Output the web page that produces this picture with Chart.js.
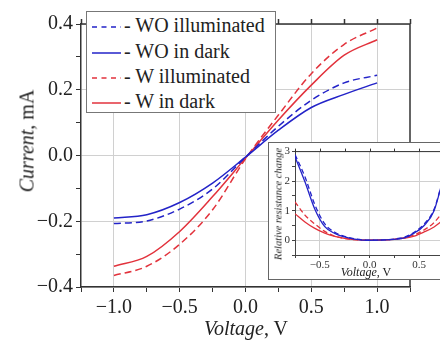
<!DOCTYPE html>
<html>
<head>
<meta charset="utf-8">
<script src="https://cdn.jsdelivr.net/npm/chart.js@4.4.1/dist/chart.umd.min.js"></script>
<style>
  html, body { margin: 0; padding: 0; background: #fff; }
  body { width: 440px; height: 340px; overflow: hidden; position: relative; font-family: "Liberation Serif", "Times New Roman", "DejaVu Serif", serif; color: #222; }
  #main { position: absolute; left: 0; top: 0; }
  #legend { position: absolute; left: 86px; top: 11px; width: 188px; height: 100px; border: 1px solid #777; background: #fff; }
  .row { position: absolute; left: 5px; height: 22px; line-height: 22px; font-size: 20px; white-space: nowrap; }
  .row svg { vertical-align: middle; margin-right: 3px; }
  .ytitle { position: absolute; transform: translate(-50%, -50%) rotate(-90deg); white-space: nowrap; }
  .xtitle { position: absolute; transform: translate(-50%, -50%); white-space: nowrap; }
  #inset { position: absolute; left: 268px; top: 142px; width: 200px; height: 136px; border: 1.5px solid #666; background: #fff; }
  #insetCanvas { position: absolute; left: 0; top: 0; }
</style>
</head>
<body>
<canvas id="main" width="440" height="340"></canvas>
<div id="legend"></div>
<div class="ytitle" style="left:27px; top:141px; font-size:20px;"><i>Current</i>, mA</div>
<div class="xtitle" style="left:246px; top:328px; font-size:20px;"><i>Voltage</i>, V</div>
<div id="inset">
  <canvas id="insetCanvas" width="190" height="136"></canvas>
  <div class="ytitle" style="left:9px; top:61px; font-size:10.5px;"><i>Relative resistance change</i></div>
  <div class="xtitle" style="left:97px; top:129px; font-size:12px;"><i>Voltage</i>, V</div>
</div>
<script>
// main I-V curves
const voltage = [-1, -0.75, -0.5, -0.25, 0, 0.25, 0.5, 0.75, 1];
const woIlluminated = [-0.207, -0.199, -0.163, -0.102, -0.005, 0.089, 0.168, 0.221, 0.244];
const woDark = [-0.19, -0.18, -0.143, -0.084, -0.005, 0.077, 0.146, 0.186, 0.221];
const wIlluminated = [-0.365, -0.337, -0.27, -0.165, -0.01, 0.123, 0.249, 0.338, 0.388];
const wDark = [-0.337, -0.307, -0.231, -0.125, -0.008, 0.108, 0.214, 0.305, 0.352];

// inset: relative resistance change
const insetVoltage = [-0.75, -0.65, -0.55, -0.45, -0.35, -0.25, -0.15, 0, 0.15, 0.25, 0.35, 0.45, 0.55, 0.65, 0.75];
const insetWoIlluminated = [2.9, 2.15, 1.2, 0.55, 0.27, 0.13, 0.05, 0, 0.01, 0.04, 0.1, 0.27, 0.55, 1.05, 2.2];
const insetWoDark = [2.83, 1.98, 1.05, 0.46, 0.23, 0.11, 0.04, 0, 0.01, 0.03, 0.08, 0.24, 0.5, 1.0, 2.2];
const insetWIlluminated = [1.3, 0.85, 0.55, 0.3, 0.14, 0.06, 0.02, 0, 0.01, 0.03, 0.08, 0.18, 0.35, 0.6, 1.0];
const insetWDark = [0.9, 0.62, 0.4, 0.24, 0.13, 0.06, 0.02, 0, 0.01, 0.03, 0.07, 0.14, 0.28, 0.45, 0.7];

const seriesNames = ['WO illuminated', 'WO in dark', 'W illuminated', 'W in dark'];
const mainXLabels = [-1, -0.5, 0, 0.5, 1];
const mainYLabels = [-0.4, -0.2, 0, 0.2, 0.4];
const insetXLabels = [-0.5, 0, 0.5];
const insetYLabels = [0, 1, 2, 3];

const BLUE = '#2323c8';
const RED = '#e2323c';
const colors = [BLUE, BLUE, RED, RED];
const dashes = [[7, 4], [], [7, 4], []];

function pts(xs, ys) { return xs.map((x, i) => ({x: x, y: ys[i]})); }
function hasLabel(list, v) { return list.some(l => Math.abs(l - v) < 1e-6); }
function fmt(v, d) { return v.toFixed(d).replace('-', '\u2212'); }

// legend
const legend = document.getElementById('legend');
const rowTops = [2, 28, 53, 78];
seriesNames.forEach((name, i) => {
  const row = document.createElement('div');
  row.className = 'row';
  row.style.top = rowTops[i] + 'px';
  row.innerHTML = '<svg width="29" height="6"><line x1="0" y1="3" x2="29" y2="3" stroke="' + colors[i] +
    '" stroke-width="1.5"' + (dashes[i].length ? ' stroke-dasharray="5 4.5"' : '') + '/></svg>- ' + name;
  legend.appendChild(row);
});

// draws top/right frame and outward ticks on the top edge
const framePlugin = {
  id: 'frame',
  afterDraw(chart, args, opts) {
    const ctx = chart.ctx, a = chart.chartArea, xs = chart.scales.x;
    ctx.save();
    ctx.strokeStyle = '#333';
    ctx.lineWidth = opts.width || 1.5;
    ctx.beginPath();
    ctx.moveTo(a.left, a.top);
    ctx.lineTo(a.right, a.top);
    ctx.lineTo(a.right, a.bottom);
    xs.ticks.forEach(t => {
      const px = Math.round(xs.getPixelForValue(t.value)) + 0.5;
      ctx.moveTo(px, a.top);
      ctx.lineTo(px, a.top - (opts.tick || 5));
    });
    ctx.stroke();
    ctx.restore();
  }
};

const tickFont = {family: 'Liberation Serif', size: 20};

new Chart(document.getElementById('main'), {
  type: 'line',
  data: {
    datasets: [woIlluminated, woDark, wIlluminated, wDark].map((d, i) => ({
      label: seriesNames[i],
      data: pts(voltage, d),
      borderColor: colors[i],
      borderDash: dashes[i],
      borderWidth: 1.5,
      pointRadius: 0,
      cubicInterpolationMode: 'monotone',
      fill: false
    }))
  },
  options: {
    responsive: false,
    animation: false,
    devicePixelRatio: 1,
    layout: { padding: {left: 0, top: 24, right: 30, bottom: 0} },
    plugins: { legend: {display: false}, tooltip: {enabled: false}, frame: {width: 1.5, tick: 5} },
    scales: {
      x: {
        type: 'linear', min: -1.25, max: 1.25,
        afterFit(s) { s.height = 53; },
        border: {color: '#333', width: 1.5},
        grid: {
          color: c => hasLabel(mainXLabels, c.tick.value) ? '#d0d0d0' : 'rgba(0,0,0,0)',
          tickColor: '#333', tickLength: 5
        },
        ticks: {
          stepSize: 0.25, autoSkip: false, maxRotation: 0, padding: 4, color: '#222', font: tickFont,
          callback: v => hasLabel(mainXLabels, v) ? fmt(v, 1) : ''
        }
      },
      y: {
        min: -0.4, max: 0.4,
        afterFit(s) { s.width = 81; },
        border: {color: '#333', width: 1.5},
        grid: {
          color: c => hasLabel(mainYLabels, c.tick.value) ? '#d0d0d0' : 'rgba(0,0,0,0)',
          tickColor: '#333', tickLength: 5
        },
        ticks: {
          stepSize: 0.1, autoSkip: false, padding: 3, color: '#222', font: tickFont,
          callback: v => hasLabel(mainYLabels, v) ? fmt(v, 1) : ''
        }
      }
    }
  },
  plugins: [framePlugin]
});

new Chart(document.getElementById('insetCanvas'), {
  type: 'line',
  data: {
    datasets: [insetWoIlluminated, insetWoDark, insetWIlluminated, insetWDark].map((d, i) => ({
      label: seriesNames[i],
      data: pts(insetVoltage, d),
      borderColor: colors[i],
      borderDash: dashes[i].length ? [5, 3] : [],
      borderWidth: 1.3,
      pointRadius: 0,
      cubicInterpolationMode: 'monotone',
      fill: false
    }))
  },
  options: {
    responsive: false,
    animation: false,
    devicePixelRatio: 1,
    layout: { padding: {left: 0, top: 8, right: 15, bottom: 0} },
    plugins: { legend: {display: false}, tooltip: {enabled: false}, frame: {width: 1, tick: 3} },
    scales: {
      x: {
        type: 'linear', min: -0.75, max: 0.75,
        afterFit(s) { s.height = 24; },
        border: {color: '#444', width: 1},
        grid: {
          color: c => hasLabel(insetXLabels, c.tick.value) ? '#d0d0d0' : 'rgba(0,0,0,0)',
          tickColor: '#444', tickLength: 3
        },
        ticks: {
          stepSize: 0.25, autoSkip: false, maxRotation: 0, padding: 1, color: '#333',
          font: {family: 'Liberation Serif', size: 11},
          callback: v => hasLabel(insetXLabels, v) ? fmt(v, 1) : ''
        }
      },
      y: {
        min: -0.5, max: 3,
        afterFit(s) { s.width = 26; },
        border: {color: '#444', width: 1},
        grid: {
          color: c => hasLabel(insetYLabels, c.tick.value) ? '#d0d0d0' : 'rgba(0,0,0,0)',
          tickColor: '#444', tickLength: 3
        },
        ticks: {
          stepSize: 0.5, autoSkip: false, padding: 2, color: '#333',
          font: {family: 'Liberation Serif', size: 11},
          callback: v => hasLabel(insetYLabels, v) ? fmt(v, 0) : ''
        }
      }
    }
  },
  plugins: [framePlugin]
});
</script>
</body>
</html>
